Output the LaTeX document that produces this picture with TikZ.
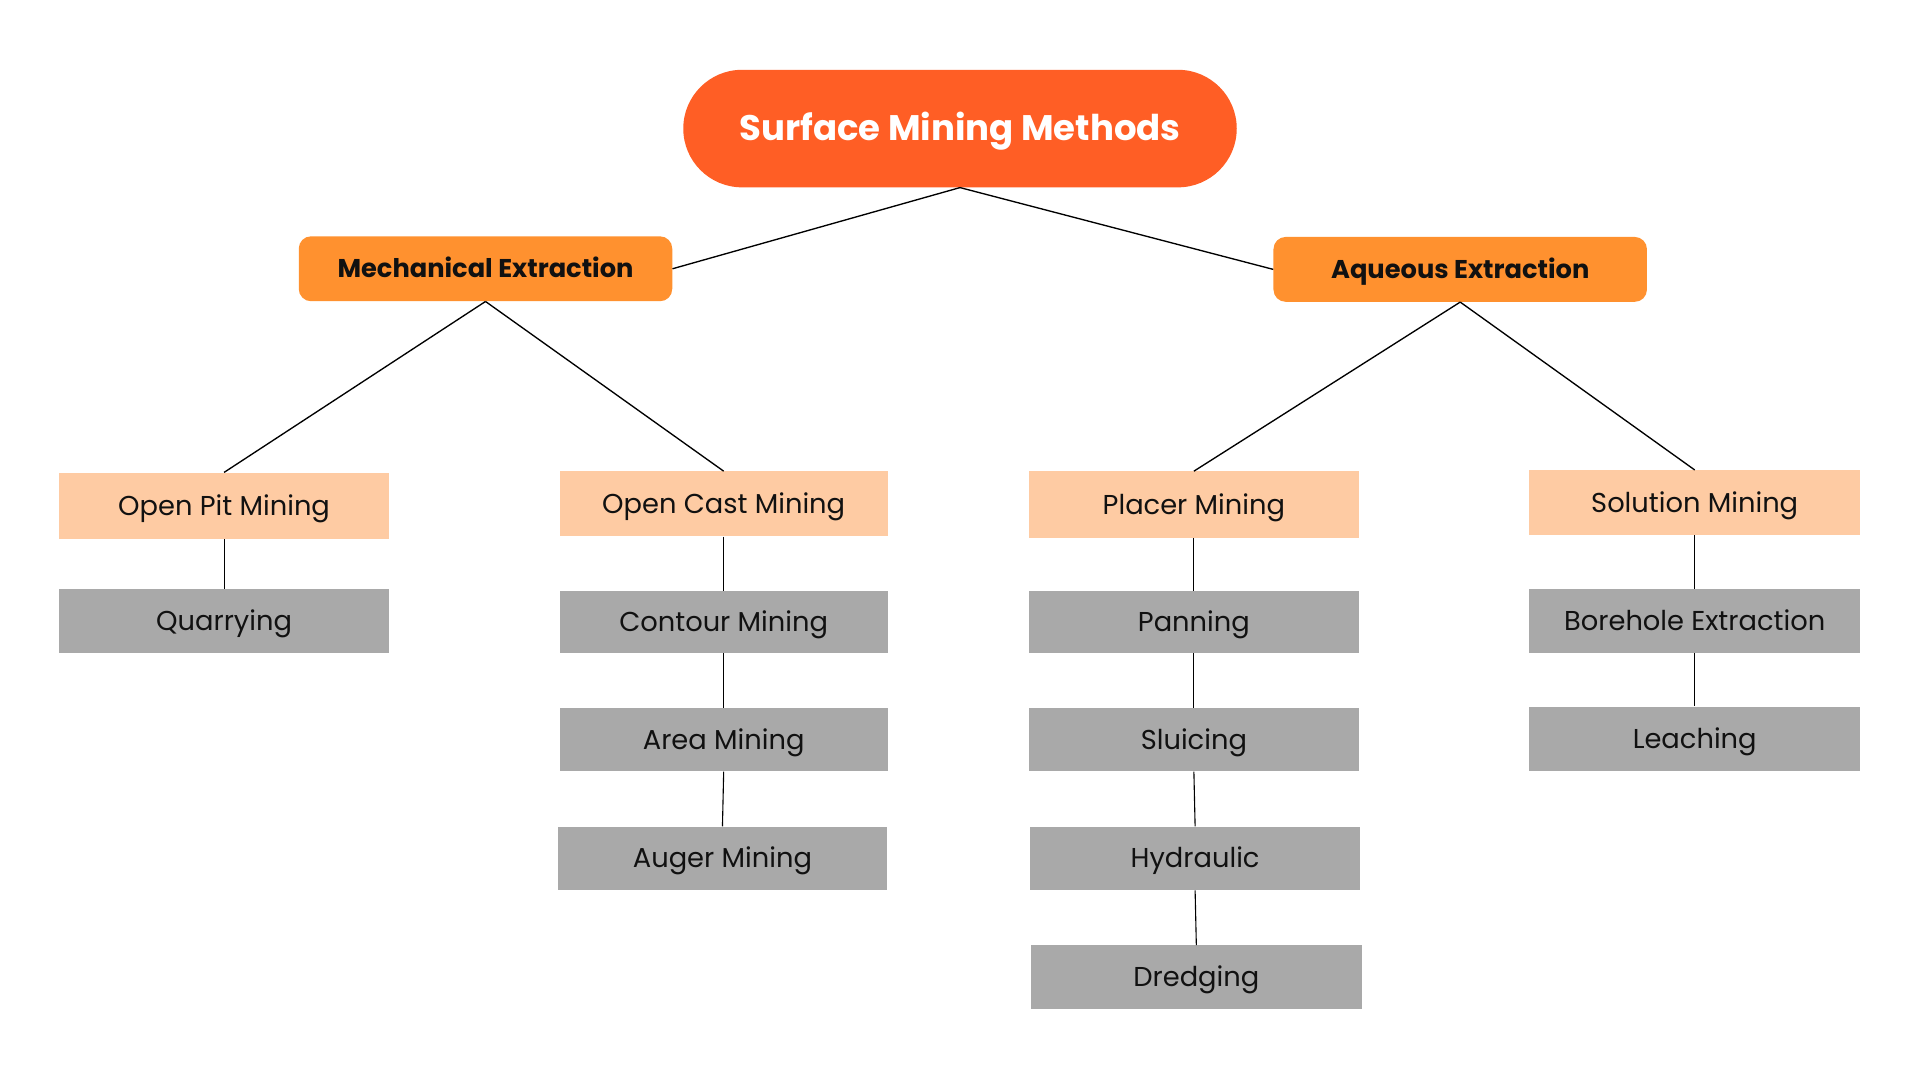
\documentclass[tikz,border=0pt]{standalone}
\usepackage{fontspec}
\setmainfont{Poppins}
\definecolor{rootc}{HTML}{FF5E25}
\definecolor{catc}{HTML}{FF912F}
\definecolor{subc}{HTML}{FECBA3}
\definecolor{leafc}{HTML}{A9A9A9}
\definecolor{txtc}{HTML}{111111}
\begin{document}
\begin{tikzpicture}[x=1pt,y=-1pt,
  every node/.style={text depth=0pt,inner sep=0pt},
  rootbox/.style={fill=rootc,rounded corners=48pt,minimum width=452pt,minimum height=96pt,text=white,text height=20.3pt,font=\fontsize{29}{33}\selectfont\bfseries},
  catbox/.style={fill=catc,rounded corners=10pt,minimum width=305pt,minimum height=53pt,text=txtc,text height=14.7pt,font=\fontsize{21}{25}\selectfont\bfseries},
  subbox/.style={fill=subc,minimum width=270pt,minimum height=53pt,text=txtc,text height=15.6pt,font=\fontsize{22.3}{26}\selectfont},
  leafbox/.style={fill=leafc,minimum width=270pt,minimum height=52pt,text=txtc,text height=15.6pt,font=\fontsize{22.3}{26}\selectfont},
  link/.style={draw=black,line width=1.1pt},
  vlink/.style={draw=black,line width=0.9pt}]
\useasboundingbox (0,0) rectangle (1568,882);
\fill[white] (0,0) rectangle (1568,882);
\node[rootbox] (root) at (784,105) {Surface Mining Methods};
\node[catbox] (mech) at (396.5,219.5) {Mechanical Extraction};
\node[catbox] (aq) at (1192.5,220) {Aqueous Extraction};
\node[subbox,minimum height=54pt] (opit) at (183,413) {Open Pit Mining};
\node[subbox,minimum width=268pt] (ocast) at (591,411.5) {Open Cast Mining};
\node[subbox,minimum height=54pt] (placer) at (975,412) {Placer Mining};
\node[subbox] (sol) at (1384,410.5) {Solution Mining};
\node[leafbox] (quarry) at (183,507) {Quarrying};
\node[leafbox,minimum width=268pt,minimum height=50pt] (contour) at (591,508) {Contour Mining};
\node[leafbox,minimum width=268pt] (area) at (591,604) {Area Mining};
\node[leafbox,minimum width=268pt] (auger) at (590,701) {Auger Mining};
\node[leafbox,minimum height=50pt] (panning) at (975,508) {Panning};
\node[leafbox] (sluicing) at (975,604) {Sluicing};
\node[leafbox] (hydraulic) at (976,701) {Hydraulic};
\node[leafbox] (dredging) at (977,798) {Dredging};
\node[leafbox] (borehole) at (1384,507) {Borehole Extraction};
\node[leafbox,minimum height=53pt] (leaching) at (1384,603.5) {Leaching};
\draw[link] (root.south) -- (mech.east);
\draw[link] (root.south) -- (aq.west);
\draw[link] (mech.south) -- (opit.north);
\draw[link] (mech.south) -- (ocast.north);
\draw[link] (aq.south) -- (placer.north);
\draw[link] (aq.south) -- (sol.north);
\draw[vlink] (opit.south) -- (quarry.north);
\draw[vlink] (ocast.south) -- (contour.north);
\draw[vlink] (contour.south) -- (area.north);
\draw[vlink] (area.south) -- (auger.north);
\draw[vlink] (placer.south) -- (panning.north);
\draw[vlink] (panning.south) -- (sluicing.north);
\draw[vlink] (sluicing.south) -- (hydraulic.north);
\draw[vlink] (hydraulic.south) -- (dredging.north);
\draw[vlink] (sol.south) -- (borehole.north);
\draw[vlink] (borehole.south) -- (leaching.north);
\end{tikzpicture}
\end{document}
